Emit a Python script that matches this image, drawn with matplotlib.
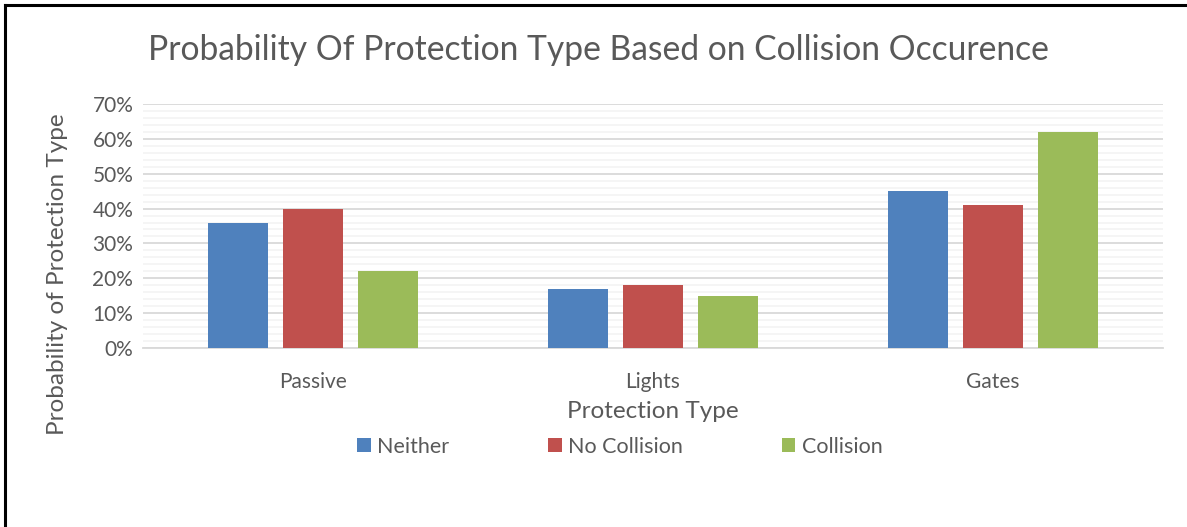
import matplotlib
matplotlib.use("Agg")
import matplotlib.pyplot as plt
from matplotlib.lines import Line2D
from matplotlib.ticker import MultipleLocator, PercentFormatter
import numpy as np

plt.rcParams['font.family'] = ['Lato', 'DejaVu Sans']

categories = ["Passive", "Lights", "Gates"]
series_names = ["Neither", "No Collision", "Collision"]
neither = [36, 17, 45]
no_collision = [40, 18, 41]
collision = [22, 15, 62]
series_values = [neither, no_collision, collision]
colors = ["#4f81bd", "#c0504d", "#9bbb59"]

text_color = "#595959"
W, H = 1187, 527
fig = plt.figure(figsize=(W / 100, H / 100), dpi=100)
ax_l, ax_r, ax_t, ax_b = 143, 1163, 104, 348
ax = fig.add_axes([ax_l / W, 1 - ax_b / H, (ax_r - ax_l) / W, (ax_b - ax_t) / H])

x = np.arange(len(categories))
width = 0.176
offsets = [-0.221, 0.0, 0.221]
handles = []
for vals, name, col, off in zip(series_values, series_names, colors, offsets):
    b = ax.bar(x + off, vals, width, color=col, label=name, zorder=3)
    handles.append(b)

ax.set_xlim(-0.5, len(categories) - 0.5)
ax.set_ylim(0, 70)
ax.yaxis.set_major_locator(MultipleLocator(10))
ax.yaxis.set_minor_locator(MultipleLocator(2))
ax.yaxis.set_major_formatter(PercentFormatter(decimals=0))
ax.grid(axis="y", which="major", color="#d9d9d9", lw=1.3, zorder=0)
ax.grid(axis="y", which="minor", color="#f2f2f2", lw=1.1, zorder=0)
ax.set_axisbelow(True)
for s in ["top", "right", "left"]:
    ax.spines[s].set_visible(False)
ax.spines["bottom"].set_color("#d9d9d9")
ax.spines["bottom"].set_linewidth(1.3)
ax.tick_params(axis="both", which="both", length=0, colors=text_color, labelsize=15)
ax.tick_params(axis="y", pad=7)
ax.tick_params(axis="x", pad=17)
ax.set_xticks(x)
ax.set_xticklabels(categories)

ax.set_xlabel("Protection Type", fontsize=17.5, color=text_color)
ax.xaxis.set_label_coords(0.5, -(411 - ax_b) / (ax_b - ax_t), transform=ax.transAxes)
ax.xaxis.label.set_va("center")
ax.set_ylabel("Probability of Protection Type", fontsize=17.5, color=text_color)
ax.yaxis.set_label_coords((58 - ax_l) / (ax_r - ax_l), 1 - (274 - ax_t) / (ax_b - ax_t),
                          transform=ax.transAxes)
ax.yaxis.label.set_va("center")

fig.text(598 / W, 1 - 50 / H, "Probability Of Protection Type Based on Collision Occurence",
         ha="center", va="center", fontsize=24.2, color=text_color)

leg = fig.legend(handles=handles, labels=series_names, loc="center",
                 bbox_to_anchor=(620 / W, 1 - 447 / H), ncol=3, frameon=False,
                 fontsize=15.5, handlelength=0.62, handleheight=0.62,
                 handletextpad=0.3, columnspacing=4.6, labelcolor=text_color)

# frame edges along top and left
fig.add_artist(Line2D([5 / W, 1], [1 - 5 / H, 1 - 5 / H], color="black", lw=2.2,
                      transform=fig.transFigure))
fig.add_artist(Line2D([5 / W, 5 / W], [0, 1 - 5 / H], color="black", lw=2.2,
                      transform=fig.transFigure))

fig.savefig("out.png", dpi=100)
